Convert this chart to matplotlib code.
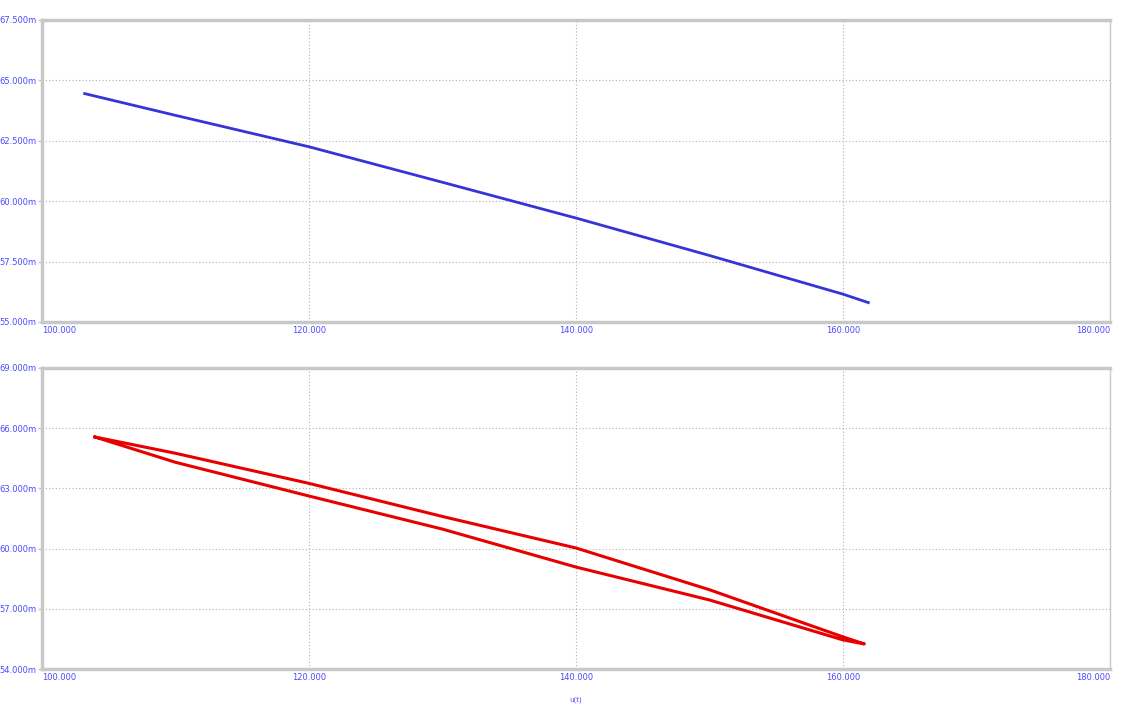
import numpy as np
import matplotlib.pyplot as plt

# top trace
x_top = [103.2, 110, 120, 130, 140, 150, 160, 161.9]
y_top = [64.45, 63.55, 62.25, 60.78, 59.3, 57.75, 56.15, 55.8]

# bottom trace: hysteresis loop, upper branch then lower branch
x_up = [103.97, 110, 120, 130, 140, 150, 160, 161.6]
y_up = [65.56, 64.75, 63.25, 61.6, 60.03, 57.95, 55.6, 55.25]
x_lo = [161.6, 160, 150, 140, 130, 120, 110, 103.97]
y_lo = [55.25, 55.45, 57.44, 59.08, 60.97, 62.62, 64.3, 65.56]

x_ticks = [100, 120, 140, 160, 180]
y_ticks_top = [55.0, 57.5, 60.0, 62.5, 65.0, 67.5]
y_ticks_bot = [54.0, 57.0, 60.0, 63.0, 66.0, 69.0]

label_color = '#4a4aff'
frame_color = '#c8c8c8'

fig = plt.figure(figsize=(11.28, 7.06), dpi=100)
ax1 = fig.add_axes([0.0372, 0.544, 0.9468, 0.4278])
ax2 = fig.add_axes([0.0372, 0.0524, 0.9468, 0.4264])

ax1.plot(x_top, y_top, color='#3434d8', lw=2)
ax2.plot(x_up + x_lo, y_up + y_lo, color='#e80000', lw=2.2)


def style(ax, yticks):
    ax.set_xlim(100, 180)
    ax.set_ylim(yticks[0], yticks[-1])
    ax.set_xticks(x_ticks)
    ax.set_yticks(yticks)
    ax.set_xticklabels(['%.3f' % v for v in x_ticks])
    ax.set_yticklabels(['%.3fm' % v for v in yticks])
    ax.grid(True, color='#b0b0b0', ls=(0, (1, 2)), lw=0.8)
    for side in ['left', 'bottom', 'top']:
        ax.spines[side].set_color(frame_color)
        ax.spines[side].set_linewidth(2.5)
    ax.spines['right'].set_color(frame_color)
    ax.spines['right'].set_linewidth(1)
    ax.tick_params(axis='both', colors=frame_color, labelcolor=label_color,
                   labelsize=6, length=3, width=1, pad=1)
    ax.tick_params(axis='x', length=0, pad=3)
    xl = ax.get_xticklabels()
    xl[0].set_ha('left')
    xl[-1].set_ha('right')


style(ax1, y_ticks_top)
style(ax2, y_ticks_bot)
ax2.set_xlabel('u(t)', fontsize=5, color=label_color, labelpad=10)

fig.savefig('out.png', dpi=100)
